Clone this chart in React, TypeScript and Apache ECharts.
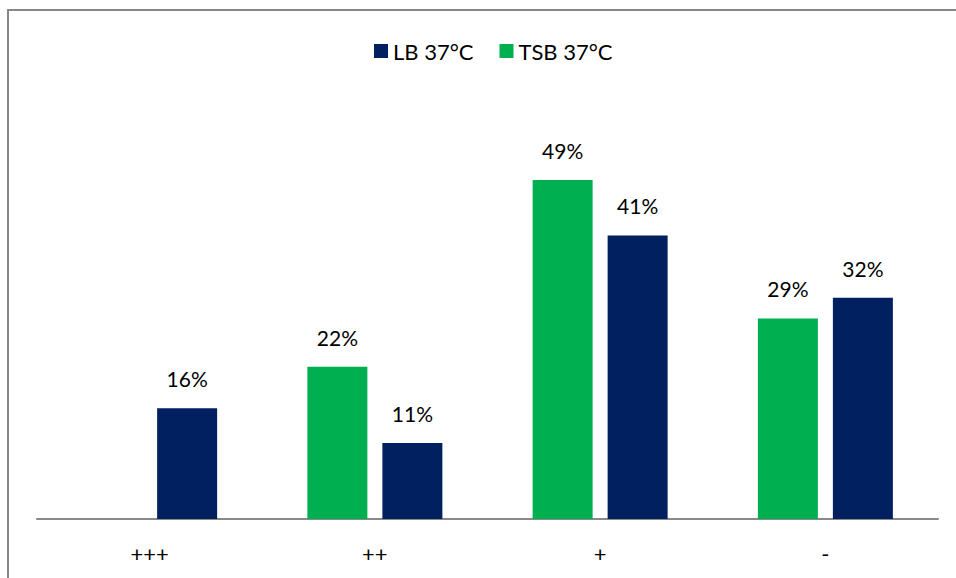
import React, { useEffect, useRef } from "react";
import * as echarts from "echarts";

const categories = ["+++", "++", "+", "-"];
const tsbValues: (number | null)[] = [null, 22, 49, 29];
const lbValues: (number | null)[] = [16, 11, 41, 32];
const legendNames = ["LB 37°C", "TSB 37°C"];

const NAVY = "#002060";
const GREEN = "#00B050";
const FONT = "Lato, 'Open Sans', sans-serif";

export default function App() {
  const ref = useRef<HTMLDivElement>(null);

  useEffect(() => {
    if (!ref.current) return;
    const chart = echarts.init(ref.current, undefined, { renderer: "svg" });

    const barLabel = {
      show: true,
      position: "top" as const,
      distance: 19,
      color: "#000",
      fontSize: 21,
      fontFamily: FONT,
      formatter: (p: any) => `${p.value}%`,
    };

    chart.setOption({
      animation: false,
      backgroundColor: "#fff",
      textStyle: { fontFamily: FONT },
      graphic: [
        {
          type: "rect",
          shape: { x: 8, y: 10, width: 1200, height: 1000 },
          style: { fill: "none", stroke: "#878787", lineWidth: 2 },
          silent: true,
        },
      ],
      legend: {
        data: legendNames,
        left: 369,
        top: 35,
        itemWidth: 14,
        itemHeight: 14,
        itemGap: 26,
        icon: "rect",
        textStyle: { fontSize: 22, color: "#000", fontFamily: FONT },
      },
      grid: { left: 37, right: 18, top: 104, bottom: 59, containLabel: false },
      xAxis: {
        type: "category",
        data: categories,
        axisLine: { show: true, lineStyle: { color: "#898989", width: 2 } },
        axisTick: { show: false },
        axisLabel: { color: "#000", fontSize: 22, fontFamily: FONT, margin: 23 },
      },
      yAxis: {
        type: "value",
        min: 0,
        max: 60,
        show: false,
        splitLine: { show: false },
      },
      series: [
        {
          name: legendNames[1],
          type: "bar",
          data: tsbValues,
          barWidth: 60,
          barGap: "25%",
          itemStyle: { color: GREEN },
          label: barLabel,
        },
        {
          name: legendNames[0],
          type: "bar",
          data: lbValues,
          barWidth: 60,
          barGap: "25%",
          itemStyle: { color: NAVY },
          label: barLabel,
        },
      ],
    });

    return () => chart.dispose();
  }, []);

  return (
    <div
      ref={ref}
      style={{ position: "fixed", left: 0, top: 0, width: 956, height: 578 }}
    />
  );
}
